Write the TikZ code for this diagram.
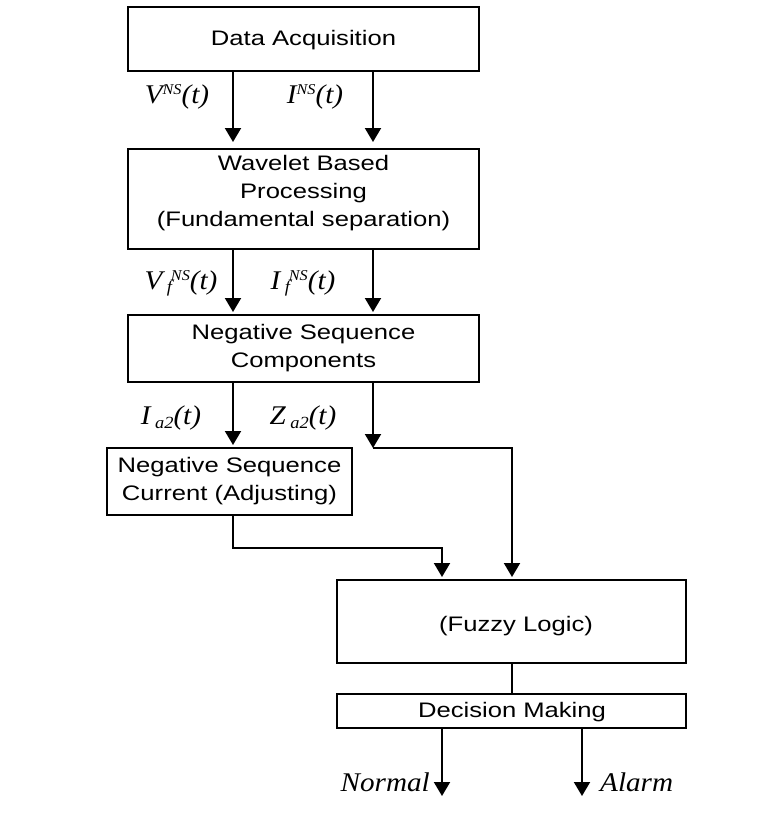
\documentclass[tikz,border=0pt]{standalone}
\usepackage{fontspec}
\setmainfont{Liberation Sans}[FakeStretch=1.22]
\newfontfamily\lblfont{Liberation Serif}[FakeStretch=1.08]
\usetikzlibrary{arrows.meta}
\newcommand\supNS{\raisebox{9pt}{\fontsize{15}{15}\selectfont NS}}
\newcommand\subf{\raisebox{-3pt}{\fontsize{17}{17}\selectfont f}}
\newcommand\subatwo{\raisebox{-4pt}{\fontsize{17}{17}\selectfont a2}}
\begin{document}
\begin{tikzpicture}[x=1pt,y=-1pt,
  box/.style={draw,line width=2pt,align=center,inner sep=0pt,
    font=\fontsize{21}{28}\selectfont},
  txt/.style={align=center,inner sep=0pt,font=\fontsize{21}{28}\selectfont},
  arr/.style={line width=2pt,-{Triangle[length=14pt,width=16pt]}},
  ln/.style={line width=2pt},
  lbl/.style={font=\lblfont\itshape\fontsize{27}{27}\selectfont,inner sep=0pt},
  outl/.style={font=\lblfont\itshape\fontsize{27}{27}\selectfont,inner sep=0pt}]
\useasboundingbox (0,0) rectangle (759,815);
\fill[white] (0,0) rectangle (759,815);
% boxes
\node[box,minimum width=351pt,minimum height=64pt] (b1) at (303.5,39) {};
\node[txt] (b1t) at (303.5,40.5) {Data Acquisition};
\node[box,minimum width=351pt,minimum height=100pt] (b2) at (303.5,199) {};
\node[txt] (b2t) at (303.5,193) {Wavelet Based\\Processing\\(Fundamental separation)};
\node[box,minimum width=351pt,minimum height=67pt] (b3) at (303.5,348.5) {Negative Sequence\\Components};
\node[box,minimum width=245pt,minimum height=67pt] (b4) at (229.5,481.5) {Negative Sequence\\Current (Adjusting)};
\node[box,minimum width=349pt,minimum height=83pt] (fz) at (511.5,621.5) {};
\node[txt] (fzt) at (516,626) {(Fuzzy Logic)};
\node[box,minimum width=349pt,minimum height=34pt] (dm) at (511.5,711) {};
\node[txt] (dmt) at (512,712.5) {Decision Making};
% guide coordinates
\coordinate (xa) at (233,0);
\coordinate (xb) at (373,0);
\coordinate (xc) at (512,0);
\coordinate (xd) at (442,0);
\coordinate (xe) at (582,0);
\coordinate (zj) at (373,448);
\coordinate (bend) at (233,548);
\coordinate (outN) at (442,796);
\coordinate (outA) at (582,796);
% connectors
\draw[arr,shorten >=6pt] (b1.south -| xa) -- (b2.north -| xa);
\draw[arr,shorten >=6pt] (b1.south -| xb) -- (b2.north -| xb);
\draw[arr,shorten >=2pt] (b2.south -| xa) -- (b3.north -| xa);
\draw[arr,shorten >=2pt] (b2.south -| xb) -- (b3.north -| xb);
\draw[arr,shorten >=2pt] (b3.south -| xa) -- (b4.north -| xa);
\draw[arr] (b3.south -| xb) -- (zj);
\draw[arr,shorten >=2pt] (zj) -| (fz.north -| xc);
\draw[arr,shorten >=2pt] (b4.south -| bend) -- (bend) -| (fz.north -| xd);
\draw[ln] (fz.south -| xc) -- (dm.north -| xc);
\draw[arr] (dm.south -| xd) -- (outN);
\draw[arr] (dm.south -| xe) -- (outA);
% labels
\node[lbl] (l1) at (177,97) {V\supNS(t)};
\node[lbl] (l2) at (315,97) {I\supNS(t)};
\node[lbl] (l3) at (181,283) {V\,\subf\kern-1pt\supNS(t)};
\node[lbl] (l4) at (303,283) {I\,\subf\kern-1pt\supNS(t)};
\node[lbl] (l5) at (171,418) {I\,\subatwo(t)};
\node[lbl] (l6) at (303,418) {Z\,\subatwo(t)};
\node[outl,anchor=east] (ln) at (430,782) {Normal};
\node[outl,anchor=west] (la) at (600,782) {Alarm};
\end{tikzpicture}
\end{document}
